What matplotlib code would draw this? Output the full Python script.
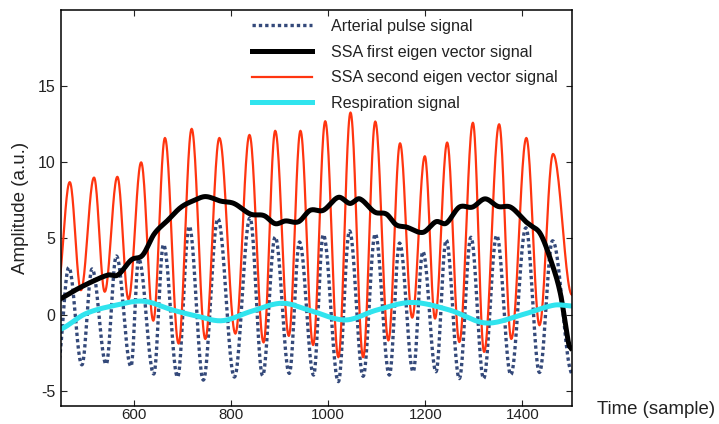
import numpy as np
import matplotlib
matplotlib.use("Agg")
import matplotlib.pyplot as plt

plt.rcParams['font.family'] = ['Liberation Sans', 'DejaVu Sans']
plt.rcParams['axes.unicode_minus'] = False

# ---- data (sample, amplitude) ----
# SSA second eigen vector signal: peaks and troughs
red_peak_x = [468, 518, 566, 615, 664, 719, 776, 838, 891, 943, 994, 1046, 1097, 1148, 1199, 1245, 1298, 1352, 1408, 1463]
red_peak_y = [8.7, 9.0, 9.05, 10.0, 11.6, 12.2, 11.6, 11.8, 12.07, 12.07, 12.7, 13.27, 12.68, 11.25, 10.4, 11.3, 12.6, 12.5, 11.6, 10.55]
red_trough_x = [442, 491, 540, 589, 640, 692, 747, 809, 867, 919, 969, 1021, 1072, 1124, 1173, 1220, 1270, 1321, 1377, 1435, 1502]
red_trough_y = [1.5, 1.6, 1.5, 1.0, -0.4, -1.9, -1.6, -1.25, -1.83, -1.4, -2.0, -2.8, -2.8, -1.7, -0.2, -0.26, -1.8, -2.45, -1.6, -0.7, 1.3]

# Arterial pulse signal: peaks and troughs
blue_peak_x = [466, 514, 564, 610, 661, 714, 773, 839, 891, 941, 990, 1044, 1097, 1147, 1195, 1243, 1294, 1347, 1407, 1462]
blue_peak_y = [3.1, 3.0, 3.85, 3.65, 4.6, 5.8, 6.3, 6.35, 5.1, 4.77, 5.25, 5.5, 5.3, 4.7, 4.14, 4.9, 5.08, 5.2, 5.7, 4.85]
blue_trough_x = [443, 493, 543, 594, 641, 690, 743, 807, 865, 920, 970, 1021, 1072, 1126, 1175, 1222, 1270, 1320, 1376, 1435, 1503]
blue_trough_y = [-3.3, -3.3, -3.25, -3.4, -3.9, -4.1, -4.3, -4.1, -4.0, -3.86, -3.97, -4.4, -4.05, -3.97, -3.75, -3.75, -4.2, -4.2, -3.95, -3.8, -3.9]

# SSA first eigen vector signal
black_x = [450, 479, 513, 547, 567, 595, 618, 642, 670, 697, 724, 748, 779, 806, 840, 868, 891, 912, 939, 963, 990,
           1021, 1045, 1065, 1096, 1120, 1140, 1161, 1195, 1222, 1243, 1270, 1297, 1323, 1350, 1376, 1407, 1417,
           1437, 1458, 1478, 1495, 1500]
black_y = [1.05, 1.6, 2.15, 2.6, 2.6, 3.6, 3.9, 5.3, 6.2, 7.05, 7.5, 7.75, 7.45, 7.3, 6.6, 6.5, 5.97, 6.15, 6.1, 6.85, 6.85,
           7.7, 7.3, 7.6, 6.73, 6.6, 5.9, 5.75, 5.4, 6.1, 6.0, 7.06, 7.06, 7.6, 7.1, 7.05, 6.1, 5.86,
           5.3, 3.6, 1.4, -1.9, -2.2]

# Respiration signal
cyan_x = [400, 450, 500, 560, 620, 680, 730, 782, 840, 905, 960, 1035, 1100, 1172, 1250, 1325, 1400, 1465, 1500]
cyan_y = [-1.3, -0.95, 0.05, 0.6, 0.88, 0.3, -0.1, -0.4, 0.2, 0.75, 0.3, -0.35, 0.3, 0.8, 0.3, -0.55, 0.0, 0.62, 0.57]

labels = ['Arterial pulse signal', 'SSA first eigen vector signal',
          'SSA second eigen vector signal', 'Respiration signal']
x_ticks = [600, 800, 1000, 1200, 1400]
y_ticks = [-5, 0, 5, 10, 15]


def through_extrema(px, py, tx, ty, n=24):
    """Smooth oscillation passing through the given peaks and troughs."""
    pts = sorted(list(zip(px, py)) + list(zip(tx, ty)))
    xs, ys = [], []
    for (x0, y0), (x1, y1) in zip(pts[:-1], pts[1:]):
        t = np.linspace(0, 1, n, endpoint=False)
        xs.append(x0 + (x1 - x0) * t)
        ys.append(y0 + (y1 - y0) * (1 - np.cos(np.pi * t)) / 2)
    xs.append([pts[-1][0]]); ys.append([pts[-1][1]])
    return np.concatenate(xs), np.concatenate(ys)


def hermite(xk, yk, n=16):
    xk = np.asarray(xk, float); yk = np.asarray(yk, float)
    m = np.empty_like(yk)
    m[1:-1] = (yk[2:] - yk[:-2]) / (xk[2:] - xk[:-2])
    m[0] = (yk[1] - yk[0]) / (xk[1] - xk[0])
    m[-1] = (yk[-1] - yk[-2]) / (xk[-1] - xk[-2])
    xs, ys = [], []
    for i in range(len(xk) - 1):
        h = xk[i + 1] - xk[i]
        t = np.linspace(0, 1, n, endpoint=False)
        h00 = 2 * t**3 - 3 * t**2 + 1
        h10 = t**3 - 2 * t**2 + t
        h01 = -2 * t**3 + 3 * t**2
        h11 = t**3 - t**2
        xs.append(xk[i] + h * t)
        ys.append(h00 * yk[i] + h10 * h * m[i] + h01 * yk[i + 1] + h11 * h * m[i + 1])
    xs.append([xk[-1]]); ys.append([yk[-1]])
    return np.concatenate(xs), np.concatenate(ys)


fig = plt.figure(figsize=(7.19, 4.24), dpi=100)
ax = fig.add_axes([61 / 719, 1 - 406 / 424, (572 - 61) / 719, (406 - 10) / 424])

bx, by = through_extrema(blue_peak_x, blue_peak_y, blue_trough_x, blue_trough_y)
rx, ry = through_extrema(red_peak_x, red_peak_y, red_trough_x, red_trough_y)
kx, ky = hermite(black_x, black_y)
cx, cy = hermite(cyan_x, cyan_y)

l_blue, = ax.plot(bx, by, color='#34497a', lw=2.4, ls=(0, (1, 0.9)), label=labels[0])
l_red, = ax.plot(rx, ry, color='#ff3510', lw=1.6, label=labels[2])
l_black, = ax.plot(kx, ky, color='black', lw=3.6, label=labels[1])
l_cyan, = ax.plot(cx, cy, color='#30e4ee', lw=3.6, label=labels[3])

ax.set_xlim(450, 1502)
ax.set_ylim(-6, 20)
ax.set_xticks(x_ticks)
ax.set_yticks(y_ticks)
ax.tick_params(direction='in', top=True, right=True, length=4, width=0.8,
               labelsize=11.5, colors='#222222', pad=4)
ax.tick_params(axis='x', labelsize=10.8, pad=1.5)
for s in ax.spines.values():
    s.set_linewidth(1.1)

ax.set_ylabel('Amplitude (a.u.)', fontsize=13.5, color='#222222', labelpad=6)
fig.text(597 / 719, 1 - 410 / 424, 'Time (sample)', fontsize=13.4, color='#222222',
         ha='left', va='center')

leg = ax.legend(handles=[l_blue, l_black, l_red, l_cyan], loc='upper left',
                bbox_to_anchor=(252 / 719, 1 - 19 / 424), bbox_transform=fig.transFigure,
                frameon=False, fontsize=11.6, handlelength=3.7, handletextpad=1.2,
                labelspacing=0.66, borderpad=0, borderaxespad=0)
for t in leg.get_texts():
    t.set_color('#222222')

fig.savefig('out.png', dpi=100)
